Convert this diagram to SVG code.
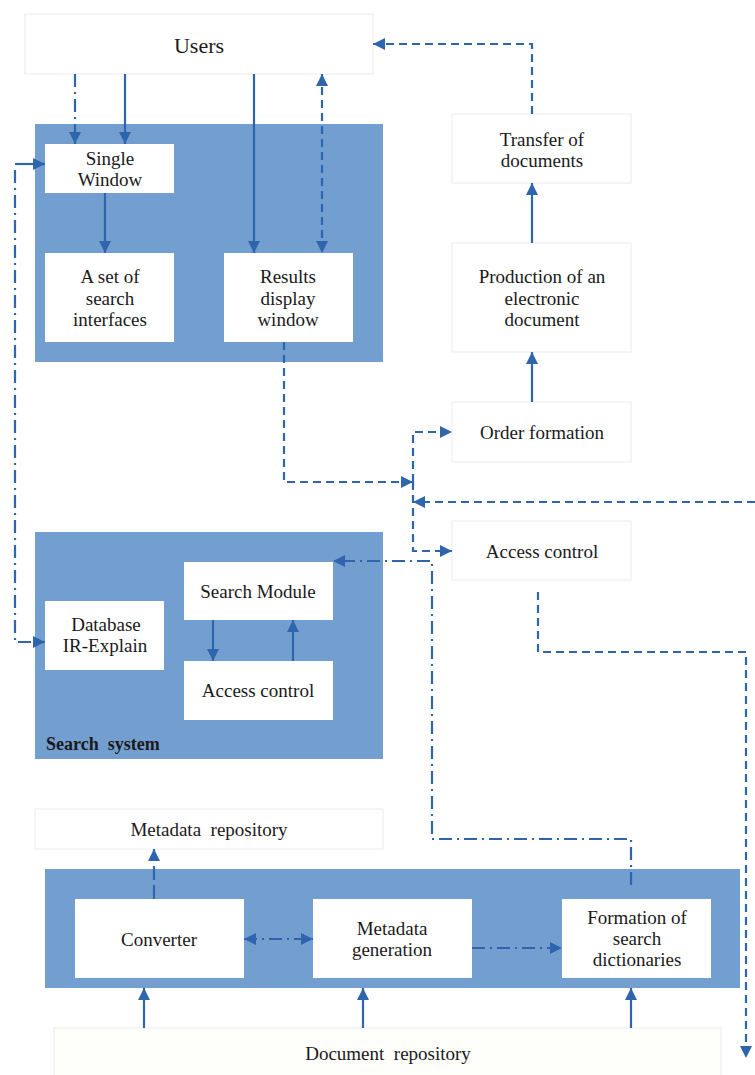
<svg xmlns="http://www.w3.org/2000/svg" width="755" height="1075" viewBox="0 0 755 1075">
<style>
.bg{fill:#ffffff}
.cont{fill:#739fd0}
.inner{fill:#ffffff}
.outer{fill:#ffffff;stroke:#ececec;stroke-width:1}
.doc{fill:#fefefa;stroke:#ececec;stroke-width:1}
text{font-size:19px;fill:#1a1a1a;text-anchor:middle}
.big{font-size:22px}
.bold{font-weight:bold;font-size:18px;text-anchor:start}
.ln{fill:none;stroke:#2f65ad;stroke-width:2.2}
.dash{stroke-dasharray:8 5}
.dd{stroke-dasharray:13 5 2 5}
.ld{stroke-dasharray:14 5}
</style>
<defs>
<marker id="ah" viewBox="0 0 12 12" refX="12" refY="6" markerWidth="12" markerHeight="12" markerUnits="userSpaceOnUse" orient="auto-start-reverse">
<path d="M0,0 L12,6 L0,12 z" fill="#2f65ad"/>
</marker>
</defs>
<rect class="bg" x="0" y="0" width="755" height="1075"/>
<g font-family="'Liberation Serif', Tinos, 'DejaVu Serif', serif">
<g id="users"><rect class="outer" x="25" y="14" width="348" height="60"/><text class="big" x="199" y="53">Users</text></g>

<g id="interface-group"><rect class="cont" x="35" y="124" width="348" height="238"/></g>
<g id="single-window"><rect class="inner" x="45" y="144" width="129" height="49"/><text x="110" y="165">Single</text><text x="110" y="186">Window</text></g>
<g id="search-interfaces"><rect class="inner" x="45" y="253" width="129" height="89"/><text x="110" y="283">A set of</text><text x="110" y="305">search</text><text x="110" y="326">interfaces</text></g>
<g id="results-window"><rect class="inner" x="224" y="253" width="129" height="89"/><text x="288" y="283">Results</text><text x="288" y="305">display</text><text x="288" y="326">window</text></g>

<g id="transfer"><rect class="outer" x="452" y="114" width="179" height="69"/><text x="542" y="146">Transfer of</text><text x="542" y="167">documents</text></g>
<g id="production"><rect class="outer" x="452" y="243" width="179" height="109"/><text x="542" y="283">Production of an</text><text x="542" y="305">electronic</text><text x="542" y="326">document</text></g>
<g id="order"><rect class="outer" x="452" y="402" width="179" height="60"/><text x="542" y="439">Order formation</text></g>
<g id="access-control-right"><rect class="outer" x="452" y="521" width="179" height="59"/><text x="542" y="558">Access control</text></g>

<g id="search-system"><rect class="cont" x="35" y="532" width="348" height="227"/><text class="bold" x="46" y="750" xml:space="preserve">Search  system</text></g>
<g id="database"><rect class="inner" x="45" y="601" width="119" height="69"/><text x="106" y="631">Database</text><text x="105" y="652">IR-Explain</text></g>
<g id="search-module"><rect class="inner" x="184" y="562" width="149" height="58"/><text x="258" y="598">Search Module</text></g>
<g id="access-control-inner"><rect class="inner" x="184" y="661" width="149" height="59"/><text x="258" y="697">Access control</text></g>

<g id="metadata-repository"><rect class="outer" x="35" y="809" width="348" height="40"/><text x="209" y="836" xml:space="preserve">Metadata  repository</text></g>
<g id="processing"><rect class="cont" x="45" y="869" width="695" height="119"/></g>
<g id="converter"><rect class="inner" x="75" y="899" width="169" height="79"/><text x="159" y="946">Converter</text></g>
<g id="metadata-generation"><rect class="inner" x="313" y="899" width="159" height="79"/><text x="392" y="935">Metadata</text><text x="392" y="956">generation</text></g>
<g id="formation"><rect class="inner" x="562" y="899" width="149" height="79"/><text x="637" y="924">Formation of</text><text x="637" y="945">search</text><text x="637" y="966">dictionaries</text></g>
<g id="document-repository"><rect class="doc" x="54" y="1028" width="667" height="50"/><text x="388" y="1060" xml:space="preserve">Document  repository</text></g>
</g>
<g id="connectors">
<path class="ln dd" d="M75,74 V144" marker-end="url(#ah)"/>
<path class="ln" d="M125,74 V144" marker-end="url(#ah)"/>
<path class="ln" d="M254,74 V253" marker-end="url(#ah)"/>
<path class="ln dash" d="M322,74 V253" marker-start="url(#ah)" marker-end="url(#ah)"/>
<path class="ln" d="M105,193 V253" marker-end="url(#ah)"/>
<path class="ln" d="M15,164 H45" marker-end="url(#ah)"/>
<path class="ln dd" d="M15,170 V642 H45" marker-end="url(#ah)"/>
<path class="ln dash" d="M532,114 V44 H373" marker-end="url(#ah)"/>
<path class="ln" d="M532,243 V183" marker-end="url(#ah)"/>
<path class="ln" d="M532,402 V352" marker-end="url(#ah)"/>
<path class="ln dash" d="M284,342 V482 H413" marker-end="url(#ah)"/>
<path class="ln dash" d="M413,482 V432 H452" marker-end="url(#ah)"/>
<path class="ln dash" d="M413,482 V551 H452" marker-end="url(#ah)"/>
<path class="ln dash" d="M755,502 H413" marker-end="url(#ah)"/>
<path class="ln dash" d="M538,592 V652 H746 V1058" marker-end="url(#ah)"/>
<path class="ln dd" d="M631,885 V839 H432 V561 H333" marker-end="url(#ah)"/>
<path class="ln" d="M213,620 V661" marker-end="url(#ah)"/>
<path class="ln" d="M293,661 V620" marker-end="url(#ah)"/>
<path class="ln ld" d="M154,899 V849" marker-end="url(#ah)"/>
<path class="ln dd" d="M244,939 H313" marker-start="url(#ah)" marker-end="url(#ah)"/>
<path class="ln dd" d="M472,948 H562" marker-end="url(#ah)"/>
<path class="ln" d="M144,1028 V988" marker-end="url(#ah)"/>
<path class="ln" d="M363,1028 V988" marker-end="url(#ah)"/>
<path class="ln" d="M631,1028 V988" marker-end="url(#ah)"/>
</g>
</svg>
